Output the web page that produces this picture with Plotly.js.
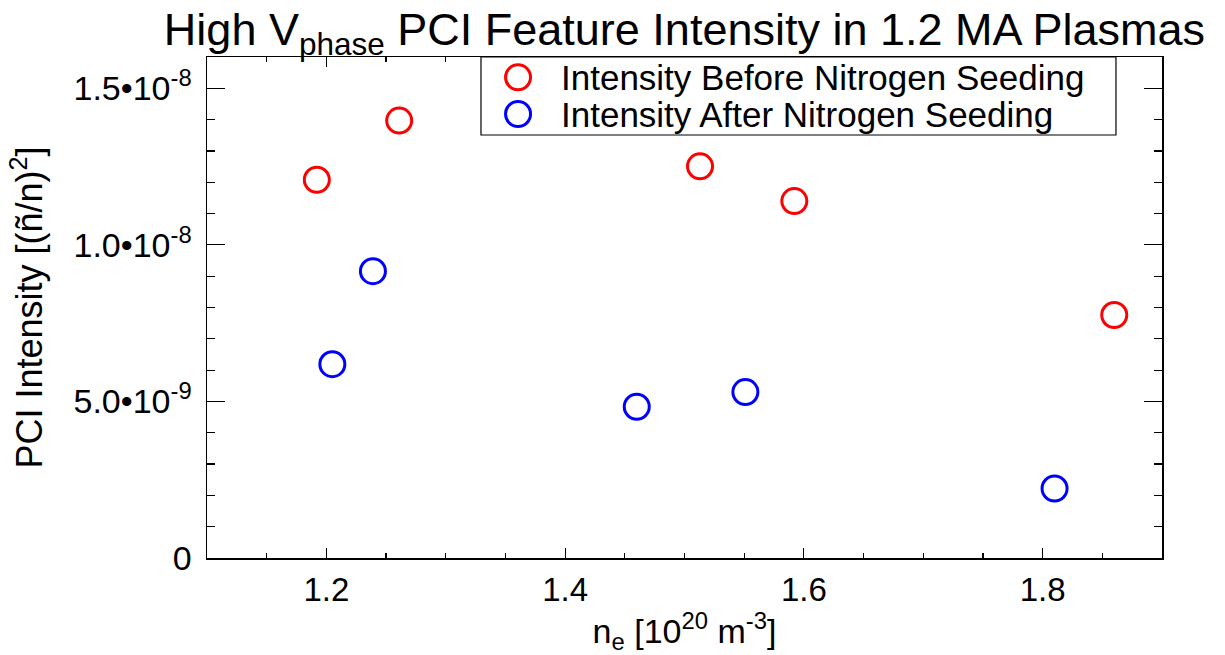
<!DOCTYPE html>
<html>
<head>
<meta charset="utf-8">
<script src="https://cdn.plot.ly/plotly-3.0.1.min.js"></script>
<style>html,body{margin:0;padding:0;background:#fff;}#chart{width:1225px;height:655px;}</style>
</head>
<body>
<div id="chart"></div>
<script>
// Density n_e [10^20 m^-3] and PCI intensity values
const beforeDensity = [1.192, 1.261, 1.513, 1.592, 1.860];
const beforeIntensity = [12.08e-9, 13.97e-9, 12.51e-9, 11.40e-9, 7.76e-9];
const afterDensity = [1.205, 1.239, 1.460, 1.551, 1.810];
const afterIntensity = [6.19e-9, 9.16e-9, 4.83e-9, 5.30e-9, 2.22e-9];
const seriesNames = ['Intensity Before Nitrogen Seeding', 'Intensity After Nitrogen Seeding'];
const seriesColors = ['#ff0000', '#0000ff'];
const yTickVals = [0, 5e-9, 1e-8, 1.5e-8];
const yTickText = ['0', '5.0\u202210<sup>-9</sup>', '1.0\u202210<sup>-8</sup>', '1.5\u202210<sup>-8</sup>'];
const xTickVals = [1.2, 1.4, 1.6, 1.8];
const xTickText = ['1.2', '1.4', '1.6', '1.8'];

const FONT = '"Liberation Sans", Arial, Helvetica, sans-serif';

const traces = [
  {
    x: beforeDensity, y: beforeIntensity, name: seriesNames[0],
    type: 'scatter', mode: 'markers', showlegend: false,
    marker: {symbol: 'circle-open', size: 25, color: seriesColors[0], line: {width: 3, color: seriesColors[0]}}
  },
  {
    x: afterDensity, y: afterIntensity, name: seriesNames[1],
    type: 'scatter', mode: 'markers', showlegend: false,
    marker: {symbol: 'circle-open', size: 25, color: seriesColors[1], line: {width: 3, color: seriesColors[1]}}
  }
];

// Custom legend box (paper coordinates) so that its symbols match the plotted markers
const legendBox = {x0: 0.2869, x1: 0.9518, y0: 0.8443, y1: 1.0};
const legendRowsY = [0.9595, 0.8862];
const legendSymbolX = 0.3257;
const legendTextX = 0.3686;

const shapes = [
  {type: 'rect', xref: 'paper', yref: 'paper', x0: legendBox.x0, x1: legendBox.x1, y0: legendBox.y0, y1: legendBox.y1,
   line: {color: '#000', width: 1.2}, fillcolor: '#fff', layer: 'above'}
];
const annotations = [];
seriesNames.forEach(function (name, i) {
  shapes.push({
    type: 'circle', xref: 'paper', yref: 'paper',
    xsizemode: 'pixel', ysizemode: 'pixel',
    xanchor: legendSymbolX, yanchor: legendRowsY[i],
    x0: -12.5, x1: 12.5, y0: -12.5, y1: 12.5,
    line: {color: seriesColors[i], width: 3}, layer: 'above'
  });
  annotations.push({
    text: name, xref: 'paper', yref: 'paper', x: legendTextX, y: legendRowsY[i],
    xanchor: 'left', yanchor: 'middle', showarrow: false,
    font: {family: FONT, size: 35, color: '#000'}
  });
});

const layout = {
  width: 1225, height: 655,
  margin: {l: 207, r: 63, t: 57, b: 97},
  paper_bgcolor: '#fff', plot_bgcolor: '#fff',
  font: {family: FONT, color: '#000', size: 33},
  title: {
    text: 'High V<sub>phase</sub> PCI Feature Intensity in 1.2 MA Plasmas',
    font: {family: FONT, size: 45, color: '#000'},
    xref: 'paper', x: 0.5, xanchor: 'center',
    yref: 'container', y: 0.955, yanchor: 'middle'
  },
  showlegend: false,
  shapes: shapes,
  annotations: annotations,
  xaxis: {
    range: [1.1, 1.9], autorange: false,
    tickmode: 'array', tickvals: xTickVals, ticktext: xTickText,
    ticks: 'inside', ticklen: 10, tickwidth: 1.2, tickcolor: '#000',
    minor: {dtick: 0.05, tick0: 1.1, ticks: 'inside', ticklen: 5, tickwidth: 1.2, tickcolor: '#000'},
    showline: true, linecolor: '#000', linewidth: 1.5, mirror: 'ticks',
    showgrid: false, zeroline: false,
    tickfont: {family: FONT, size: 33, color: '#000'},
    ticklabelstandoff: 2,
    title: {text: 'n<sub>e</sub> [10<sup>20</sup> m<sup>-3</sup>]', font: {family: FONT, size: 34, color: '#000'}, standoff: 16}
  },
  yaxis: {
    range: [0, 1.6e-8], autorange: false,
    tickmode: 'array', tickvals: yTickVals, ticktext: yTickText,
    ticks: 'inside', ticklen: 18, tickwidth: 1.2, tickcolor: '#000',
    minor: {dtick: 1e-9, tick0: 0, ticks: 'inside', ticklen: 8, tickwidth: 1.2, tickcolor: '#000'},
    showline: true, linecolor: '#000', linewidth: 1.5, mirror: 'ticks',
    showgrid: false, zeroline: false,
    tickfont: {family: FONT, size: 34, color: '#000'},
    ticklabelstandoff: 7,
    title: {text: 'PCI Intensity [(\u00f1/n)<sup>2</sup>]', font: {family: FONT, size: 36, color: '#000'}, standoff: 20}
  }
};

Plotly.newPlot('chart', traces, layout, {displayModeBar: false, staticPlot: true});
</script>
</body>
</html>
